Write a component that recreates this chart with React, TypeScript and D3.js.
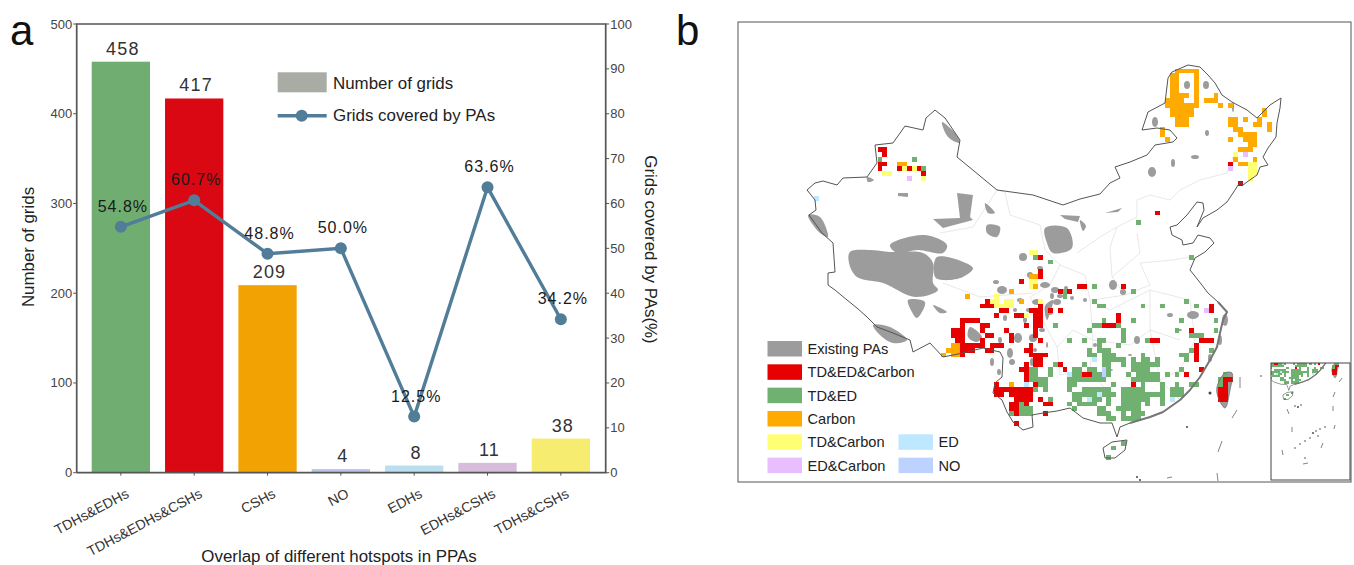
import React from "react";
import * as d3 from "d3";

// panel a
const categories = ["TDHs&EDHs", "TDHs&EDHs&CSHs", "CSHs", "NO", "EDHs", "EDHs&CSHs", "TDHs&CSHs"];
const gridCounts = [458, 417, 209, 4, 8, 11, 38];
const coveredPct = [54.8, 60.7, 48.8, 50.0, 12.5, 63.6, 34.2];
const barColors = ["#6fae70", "#d90812", "#f2a202", "#b7c6e8", "#b9dff0", "#d6bddb", "#f6ec6f"];
const leftTicks = [0, 100, 200, 300, 400, 500];
const rightTicks = [0, 10, 20, 30, 40, 50, 60, 70, 80, 90, 100];

// panel b: grid cells as [row, firstCol, lastCol]
type Run = [number, number, number];
const redCells: Run[] = [
  [-17,-17,-16],[-16,-16,-16],[-14,-17,-16],[-13,-17,-17],[-13,-13,-13],[-13,-11,-11],[-13,-9,-9],[-12,-8,-8],
  [-14,55,55],[-10,57,57],[-4,40,40],[5,16,16],[8,16,16],[9,16,16],[10,12,12],[11,24,25],[11,33,33],[12,20,20],[12,22,22],
  [14,5,5],[15,4,6],[15,16,16],[15,51,51],[16,8,9],[16,14,16],[16,18,18],[16,20,20],[16,51,51],
  [17,7,7],[17,11,12],[17,15,16],[17,32,32],[18,0,3],[18,15,16],[18,32,32],
  [19,0,0],[19,4,5],[19,13,13],[19,15,16],[19,29,31],[20,-2,0],[20,4,4],[20,9,9],[20,15,15],[20,47,47],
  [21,-2,0],[21,5,6],[21,10,10],[21,15,15],[22,-1,0],[22,4,4],[22,10,10],[22,16,16],[22,39,40],[22,49,51],
  [23,0,4],[23,6,8],[23,14,14],[23,48,48],[24,0,2],[24,5,6],[24,13,14],[24,48,48],[25,0,0],[25,14,17],[25,48,48],
  [26,15,16],[26,48,48],[27,13,13],[27,15,16],[27,20,20],[28,12,13],[28,21,21],[28,49,49],[29,13,13],[29,25,26],[29,46,46],
  [30,13,13],[30,54,55],[31,7,7],[31,15,15],[31,35,35],[31,54,54],[32,7,14],[32,53,54],[33,7,8],[33,10,14],[33,53,54],
  [34,11,14],[34,16,16],[34,53,54],[35,10,11],[35,13,13],[35,17,18],[36,10,11],[37,11,11],[37,17,17],[39,11,11],
];
const greenCells: Run[] = [
  [-15,-17,-17],[-15,-10,-10],[-13,-8,-8],[-2,36,36],[5,15,15],[5,47,47],[6,18,18],[11,27,27],[12,21,21],[12,35,35],[13,21,21],
  [14,27,27],[14,46,46],[15,28,29],[15,37,37],[15,41,41],[15,48,48],[18,29,29],[18,35,35],[18,45,45],[18,52,52],
  [19,19,19],[19,27,28],[19,32,32],[20,26,26],[20,33,33],[20,44,44],[20,52,52],[21,33,33],[21,47,49],
  [22,22,22],[22,25,25],[22,28,29],[22,33,33],[22,38,38],[23,28,28],[23,32,32],[24,26,26],[24,28,30],[24,47,47],[24,51,51],
  [25,26,27],[25,29,31],[25,37,37],[25,45,46],[26,29,33],[26,35,35],[26,37,38],[26,40,40],[26,46,46],
  [27,19,19],[27,25,25],[27,29,30],[27,33,33],[27,35,40],[28,14,15],[28,18,18],[28,23,24],[28,26,27],[28,30,30],[28,35,38],[28,45,45],
  [29,14,15],[29,18,18],[29,23,24],[29,27,28],[29,30,30],[29,34,34],[29,36,40],[29,42,42],[29,44,44],[29,54,54],
  [30,14,17],[30,22,29],[30,35,40],[30,53,53],[31,16,17],[31,22,23],[31,31,31],[31,37,37],[31,41,41],[31,44,44],[31,47,48],[31,53,53],
  [32,15,15],[32,17,17],[32,22,22],[32,25,30],[32,33,37],[32,41,41],[32,43,45],[33,23,27],[33,29,31],[33,33,41],[33,43,45],
  [34,18,18],[34,23,24],[34,27,28],[34,30,30],[34,33,36],[34,37,38],[34,41,41],[35,12,12],[35,22,22],[35,24,27],[35,30,30],[35,33,36],[35,38,38],[35,41,41],
  [36,12,14],[36,23,23],[36,28,29],[36,32,36],[37,10,10],[37,12,14],[37,28,30],[37,33,33],[37,35,37],[38,30,31],[38,33,36],[43,33,33],[44,31,31],[46,30,30],
];
const orangeCells: Run[] = [
  [-33,44,48],[-32,43,44],[-32,48,48],[-31,43,44],[-31,48,48],[-30,43,44],[-30,48,48],[-29,43,44],[-29,48,48],
  [-28,43,46],[-28,48,48],[-28,52,52],[-27,42,45],[-27,48,48],[-27,50,52],[-26,42,48],[-26,53,53],[-26,55,55],
  [-25,43,47],[-25,62,62],[-24,43,47],[-24,62,62],[-23,44,46],[-23,55,56],[-23,58,58],[-23,61,61],[-22,44,46],[-22,55,56],[-22,60,61],[-22,63,63],
  [-21,41,41],[-21,56,57],[-21,63,63],[-20,41,41],[-20,57,60],[-19,42,42],[-19,55,55],[-19,58,60],[-18,59,60],[-17,57,59],
  [-15,56,56],[-15,60,60],[-14,57,58],[-14,-13,-12],
  [9,14,15],[11,15,15],[12,10,10],[13,1,1],[14,12,12],[23,-2,-1],[24,-3,-1],[25,-4,-4],[25,-2,-1],[31,10,10],
];
const yellowCells: Run[] = [
  [-13,-12,-12],[-13,-10,-10],[-12,-16,-15],[-11,-8,-8],[-16,56,56],[-14,59,60],[-13,59,60],[-12,59,60],[-11,59,59],
  [4,14,15],[10,14,15],[11,14,14],[13,7,7],[14,6,7],[14,9,10],[14,16,16],[15,7,10],[17,13,13],
];
const pinkCells: Run[] = [[-16,58,58],[-13,55,55],[-11,-11,-11],[16,50,50]];
const edCells: Run[] = [[-7,-30,-30],[26,27,27],[29,22,22],[31,13,13],[33,28,28],[34,26,26],[34,43,43]];
const noCells: Run[] = [[28,29,29],[29,29,29]];

// map outlines, in map units
type Pt = [number, number];
const borderLine: Pt[] = [
  [468,78],[472,72],[488,65],[500,67],[508,75],[515,83],[522,95],[532,102],[547,110],[557,118],[563,112],[570,105],[581,98],[580,108],[577,123],[576,137],
  [568,148],[563,157],[568,165],[560,167],[557,175],[547,182],[543,185],[540,182],[535,190],[527,202],[517,210],[503,218],[497,227],[504,210],[503,203],[497,202],
  [487,215],[477,225],[470,227],[472,235],[482,240],[483,245],[493,243],[498,235],[510,238],[514,243],[505,252],[495,258],[490,270],[498,280],[508,293],[518,302],
  [527,312],[523,320],[520,333],[517,347],[510,360],[500,377],[490,390],[480,400],[463,412],[450,417],[430,423],[420,427],[417,437],[412,423],[400,423],[383,418],
  [370,408],[357,411],[343,413],[332,415],[333,427],[323,430],[313,422],[307,412],[302,400],[293,393],[295,383],[302,377],[303,358],[300,352],[283,348],[263,353],
  [243,357],[230,343],[213,352],[210,340],[193,333],[177,327],[167,317],[157,308],[147,300],[135,290],[128,285],[128,273],[135,272],[133,243],[122,233],[109,215],
  [116,210],[115,200],[107,190],[115,183],[123,181],[137,185],[143,178],[167,177],[172,170],[177,163],[175,145],[193,143],[205,126],[223,130],[226,118],[235,110],
  [245,118],[260,140],[257,157],[297,190],[333,195],[363,205],[380,199],[400,194],[410,183],[420,178],[415,167],[430,162],[447,155],[455,145],[473,142],[477,138],
  [470,130],[457,128],[442,130],[448,112],[465,103],[468,78],
];
const coastLine: Pt[] = [[518,302],[527,312],[523,320],[520,333],[517,347],[510,360],[500,377],[490,390],[480,400],[463,412],[450,417],[430,423]];
const hainanLine: Pt[] = [[403,448],[412,442],[427,440],[425,450],[415,458],[405,458],[403,448]];
const provinceLines: Pt[][] = [
  [[240,233],[273,227],[297,190]],
  [[243,283],[280,297],[333,293]],
  [[297,190],[305,192],[310,215],[340,225],[345,250],[360,265],[350,285],[330,297],[357,347]],
  [[377,253],[400,237],[417,227],[437,217],[437,200],[450,195],[470,200],[480,190],[500,180],[527,173],[533,157]],
  [[437,233],[440,253],[412,277],[410,247],[417,227]],
  [[440,263],[473,260],[490,257]],[[440,263],[450,285],[425,295]],[[412,277],[425,295],[393,300]],
  [[357,347],[373,330],[393,340],[430,345],[450,330],[480,340]],[[450,290],[450,330],[460,380],[480,400]],
  [[390,300],[410,310],[450,290],[490,300]],[[393,340],[390,370],[410,395]],[[357,347],[360,375],[390,370]],
  [[360,265],[385,275],[390,300],[393,340]],[[490,300],[495,340],[480,370],[460,380]],
];
const mainDashes: Pt[][] = [[[540,377],[540,388]],[[537,410],[532,418]],[[522,441],[518,452]],[[517,473],[518,481]],[[467,478],[472,477]]];
const insetDashes: Pt[][] = [
  [[587,409],[589,414]],[[592,427],[592,432]],[[582,450],[583,455]],[[603,464],[608,463]],[[623,443],[621,448]],[[635,425],[634,429]],[[633,406],[633,411]],[[635,392],[633,397]],[[642,378],[639,382]],
];
const taiwanShape: Pt[] = [[525,373],[532,373],[530,390],[525,408],[518,397],[517,387]];
const paAngular: Pt[][] = [
  [[257,193],[273,195],[270,217],[273,220],[243,228],[233,219],[260,218]],
  [[198,193],[208,193],[208,197],[198,196]],
  [[360,215],[380,216],[378,222],[365,219]],
  [[405,213],[422,208],[418,212]],
];
const paShapes: Pt[][] = [
  [[150,252],[170,250],[190,252],[223,253],[233,263],[233,283],[238,290],[215,297],[183,283],[157,277],[149,263]],
  [[190,245],[225,235],[247,245],[243,253],[218,250],[197,253]],
  [[237,257],[273,268],[263,277],[243,280],[235,277]],
  [[345,228],[367,228],[372,248],[353,253],[347,243]],
  [[287,225],[300,227],[297,237],[287,233]],[[285,203],[295,213],[288,213]],
  [[108,215],[120,217],[128,237],[120,233]],[[242,122],[255,133],[260,143],[248,137]],
  [[167,177],[174,180],[168,182]],
  [[173,325],[190,327],[207,340],[193,343],[180,335]],
  [[208,300],[225,302],[217,318],[212,312]],[[233,305],[247,312],[240,313]],
  [[270,327],[282,337],[277,342],[268,337]],
  [[380,220],[386,226],[383,231]],
  [[347,320],[345,306],[353,300],[349,316]],
];
// small protected areas: x, y, radius across, radius down
const paBlobs: number[][] = [
  [302,290,5,4],[323,257,4,4],[337,302,5,3],[345,285,5,3],[357,302,4,3],[333,338,4,4],[318,338,4,5],[310,353,3,5],[312,362,3,3],[273,333,3,3],
  [413,285,4,5],[423,292,3,3],[437,340,3,4],[493,315,6,4],[495,157,4,2],[473,163,2,4],[455,122,3,5],[487,85,3,4],[506,85,3,4],[452,172,4,5],[533,107,1,5],[507,133,2,3],
  [355,290,4,3],[330,275,3,3],[340,268,3,2],[320,300,3,2],[350,312,3,3],[325,320,2,3],[342,330,3,2],[305,318,2,3],[332,362,2,4],[327,376,2,3],[320,395,2,3],
  [395,345,2,2],[430,355,2,1],[470,315,3,2],[480,330,2,1],[445,378,2,2],[410,370,3,1],[385,300,2,2],[400,325,2,1],[525,320,3,6],[520,340,2,5],[510,358,2,4],
  [296,282,3,2],[360,296,3,2],[366,288,2,2],[372,298,2,2],[352,296,2,3],[315,310,2,2],[300,340,2,3],[292,362,2,4],[335,350,2,2],[328,310,2,2],[347,345,1,3],[299,372,2,3],
];
const mainDots: number[][] = [[437,477,1],[440,480,1],[487,427,1],[510,393,1.5]];
const insetDots: number[][] = [
  [598,407,1.2],[601,405,1],[595,406,1],[613,433,1.2],[616,431,1],[618,436,1],[620,429,1],[610,438,1],[605,441,1],[600,444,1],[625,427,1],[595,448,1],[605,458,1],[561,376,1],
];

const legendMap = [
  { label: "Existing PAs", fill: "#9c9c9c", col: 0, row: 0 },
  { label: "TD&ED&Carbon", fill: "#e60000", col: 0, row: 1 },
  { label: "TD&ED", fill: "#70b070", col: 0, row: 2 },
  { label: "Carbon", fill: "#ffaa00", col: 0, row: 3 },
  { label: "TD&Carbon", fill: "#ffff73", col: 0, row: 4 },
  { label: "ED&Carbon", fill: "#e8beff", col: 0, row: 5 },
  { label: "ED", fill: "#bee8ff", col: 1, row: 4 },
  { label: "NO", fill: "#bed2ff", col: 1, row: 5 },
];
const cellLayers: [Run[], string][] = [
  [greenCells, "#70b070"], [redCells, "#e60000"], [orangeCells, "#ffaa00"], [yellowCells, "#ffff73"],
  [pinkCells, "#e8beff"], [edCells, "#bee8ff"], [noCells, "#bed2ff"],
];

const FONT = "Liberation Sans, Arial, sans-serif";

// grid number -> map unit
const gridX = d3.scaleLinear().domain([0, 100]).range([260.33, 747.33]);
const gridY = d3.scaleLinear().domain([0, 100]).range([230.13, 719.83]);

function MapLayer({ sx, sy, lineW, dashes, dots }: {
  sx: d3.ScaleLinear<number, number>; sy: d3.ScaleLinear<number, number>; lineW: number; dashes: Pt[][]; dots: number[][];
}) {
  const line = d3.line<Pt>().x(d => sx(d[0])).y(d => sy(d[1]));
  const closed = d3.line<Pt>().x(d => sx(d[0])).y(d => sy(d[1])).curve(d3.curveLinearClosed);
  const blob = d3.line<Pt>().x(d => sx(d[0])).y(d => sy(d[1])).curve(d3.curveCatmullRomClosed.alpha(0.5));
  const k = Math.abs(sx(1) - sx(0));
  return (
    <g>
      {provinceLines.map((p, i) => <path key={i} d={line(p) as string} fill="none" stroke="#dedede" strokeWidth={lineW * 0.7} />)}
      {paShapes.map((p, i) => <path key={i} d={blob(p) as string} fill="#9c9c9c" />)}
      {paAngular.map((p, i) => <path key={i} d={closed(p) as string} fill="#9c9c9c" />)}
      {paBlobs.map((b, i) => <ellipse key={i} cx={sx(b[0])} cy={sy(b[1])} rx={b[2] * k} ry={b[3] * k} fill="#9c9c9c" />)}
      <path d={blob(taiwanShape) as string} fill="#9c9c9c" />
      <g shapeRendering="crispEdges">
        {cellLayers.map(([runs, fill], li) =>
          runs.map((r, i) => (
            <rect key={`${li}-${i}`} x={sx(gridX(r[1]))} y={sy(gridY(r[0]))}
              width={sx(gridX(r[2] + 1)) - sx(gridX(r[1]))} height={sy(gridY(r[0] + 1)) - sy(gridY(r[0]))} fill={fill} />
          ))
        )}
      </g>
      <path d={line(borderLine) as string} fill="none" stroke="#555" strokeWidth={lineW} strokeLinejoin="round" />
      <path d={line(coastLine) as string} fill="none" stroke="#777" strokeWidth={lineW * 2} strokeLinejoin="round" />
      <path d={line(hainanLine) as string} fill="none" stroke="#555" strokeWidth={lineW} />
      <path d={blob(taiwanShape) as string} fill="none" stroke="#666" strokeWidth={lineW * 0.7} />
      {dashes.map((p, i) => <path key={i} d={line(p) as string} fill="none" stroke="#666" strokeWidth={0.8} />)}
      {dots.map((d, i) => <circle key={i} cx={sx(d[0])} cy={sy(d[1])} r={d[2]} fill="#444" />)}
    </g>
  );
}

export default function App() {
  const left = 76.7, right = 605.7, top = 24, bottom = 472.7;
  const x = d3.scaleBand<string>().domain(categories).range([91.7, 590]).paddingInner(0.205).paddingOuter(0);
  const yL = d3.scaleLinear().domain([0, 500]).range([bottom, top]);
  const yR = d3.scaleLinear().domain([0, 100]).range([bottom, top]);
  const cx = (c: string) => (x(c) as number) + x.bandwidth() / 2;
  const covLine = d3.line<number>().x((_, i) => cx(categories[i])).y(v => yR(v));

  const mapX = d3.scaleLinear().domain([38, 651]).range([738, 1351]);
  const mapY = d3.scaleLinear().domain([22, 482]).range([22, 482]);
  const insetX = d3.scaleLinear().domain([415, 515]).range([1288, 1331]);
  const insetY = d3.scaleLinear().domain([450, 550]).range([396, 439]);
  const dashLine = d3.line<Pt>().x(d => mapX(d[0])).y(d => mapY(d[1]));

  return (
    <svg width={1354} height={565} style={{ position: "absolute", left: 0, top: 0 }} fontFamily={FONT}>
      <defs>
        <clipPath id="inset-clip"><rect x={1271} y={363} width={79} height={117} /></clipPath>
      </defs>
      <rect width={1354} height={565} fill="#fff" />

      {/* panel a */}
      <text x={10} y={45} fontSize={42} fill="#111">a</text>
      <text x={676} y={45} fontSize={42} fill="#111">b</text>

      {categories.map((c, i) => (
        <rect key={c} x={x(c)} y={yL(gridCounts[i])} width={x.bandwidth()} height={bottom - yL(gridCounts[i])} fill={barColors[i]} />
      ))}

      <path d={`M${left},${bottom}V${top}H${right}V${bottom}H${left}`} fill="none" stroke="#555" strokeWidth={1.7} />
      {leftTicks.map(t => (
        <g key={t}>
          <line x1={left - 3.5} x2={left} y1={yL(t)} y2={yL(t)} stroke="#555" />
          <text x={left - 4.5} y={yL(t) + 4.5} fontSize={13} fill="#444" textAnchor="end">{t}</text>
        </g>
      ))}
      {rightTicks.map(t => (
        <g key={t}>
          <line x1={right} x2={right + 3.5} y1={yR(t)} y2={yR(t)} stroke="#555" />
          <text x={right + 4.5} y={yR(t) + 4.5} fontSize={13} fill="#444">{t}</text>
        </g>
      ))}
      {categories.map(c => (
        <g key={c}>
          <line x1={cx(c)} x2={cx(c)} y1={bottom} y2={bottom + 3} stroke="#555" />
          <text transform={`translate(${cx(c) + 9},${bottom + 24}) rotate(-28)`} fontSize={14} fill="#333" textAnchor="end">{c}</text>
        </g>
      ))}

      <path d={covLine(coveredPct) as string} fill="none" stroke="#527d99" strokeWidth={3.4} />
      {coveredPct.map((v, i) => <circle key={i} cx={cx(categories[i])} cy={yR(v)} r={6} fill="#527d99" />)}

      {gridCounts.map((v, i) => (
        <text key={i} x={cx(categories[i]) + 2} y={yL(v) - 7} fontSize={18} letterSpacing={1.2} fill="#333" textAnchor="middle">{v}</text>
      ))}
      {coveredPct.map((v, i) => (
        <text key={i} x={cx(categories[i]) + 2} y={yR(v) - 15} fontSize={16} letterSpacing={1} fill="#1a1a1a" textAnchor="middle">{v.toFixed(1)}%</text>
      ))}

      <rect x={277.7} y={72.3} width={49} height={20} fill="#a8aca5" />
      <text x={333} y={88.5} fontSize={16.9} fill="#222">Number of grids</text>
      <line x1={277.7} x2={326.7} y1={115.7} y2={115.7} stroke="#527d99" strokeWidth={3.4} />
      <circle cx={301.7} cy={115.7} r={6} fill="#527d99" />
      <text x={333} y={120.7} fontSize={16.9} fill="#222">Grids covered by PAs</text>

      <text transform="translate(34,247) rotate(-90)" fontSize={16.9} fill="#222" textAnchor="middle">Number of grids</text>
      <text transform="translate(645,249.5) rotate(90)" fontSize={16.9} fill="#222" textAnchor="middle">Grids covered by PAs(%)</text>
      <text x={339} y={561.5} fontSize={16.9} fill="#222" textAnchor="middle">Overlap of different hotspots in PPAs</text>

      {/* panel b */}
      <rect x={738} y={22} width={613} height={460} fill="none" stroke="#555" strokeWidth={1} />
      <MapLayer sx={mapX} sy={mapY} lineW={1} dashes={mainDashes} dots={mainDots} />
      <rect x={1271} y={363} width={79} height={117} fill="#fff" />
      <g clipPath="url(#inset-clip)">
        <MapLayer sx={insetX} sy={insetY} lineW={0.6} dashes={[]} dots={[]} />
      </g>
      {insetDashes.map((p, i) => <path key={i} d={dashLine(p) as string} fill="none" stroke="#666" strokeWidth={0.8} />)}
      {insetDots.map((d, i) => <circle key={i} cx={mapX(d[0])} cy={mapY(d[1])} r={d[2] * 0.8} fill="#444" />)}
      <rect x={1271} y={363} width={79} height={117} fill="none" stroke="#444" strokeWidth={1} />

      {legendMap.map(d => {
        const sw = d.col === 0 ? 767.5 : 898.5;
        const y0 = 341 + d.row * 23.33;
        return (
          <g key={d.label}>
            <rect x={sw} y={y0} width={34.5} height={15.5} fill={d.fill} />
            <text x={sw + 40} y={y0 + 13} fontSize={14.6} fill="#222">{d.label}</text>
          </g>
        );
      })}
    </svg>
  );
}
